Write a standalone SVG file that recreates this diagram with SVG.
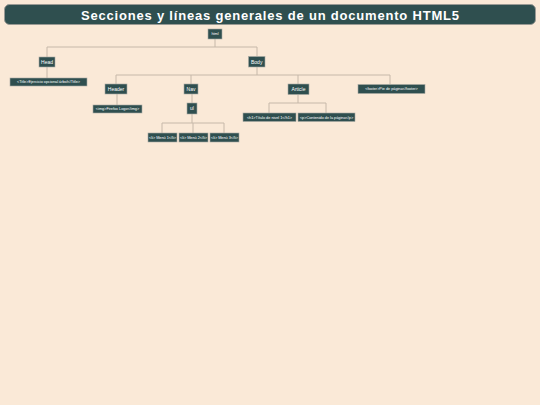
<svg xmlns="http://www.w3.org/2000/svg" width="540" height="405" viewBox="0 0 540 405">
<style>
.bg{fill:#fae9d7}
.n{fill:#2f4f4f;stroke:#a9aaa4;stroke-width:0.6}
.t{fill:#ffffff;font-family:"Liberation Sans",Arial,sans-serif;font-size:5px;text-anchor:middle}
.s{fill:#ffffff;font-family:"Liberation Sans",Arial,sans-serif;font-size:3.8px;text-anchor:middle}
.c{fill:none;stroke:#c6b8a9;stroke-width:1}
</style>
<rect class="bg" x="0" y="0" width="540" height="405"/>
<g id="title">
<rect x="4.5" y="4.5" width="531" height="20" rx="5" fill="#2f4f4f" stroke="#9a9a94" stroke-width="1"/>
<text x="270" y="19.5" fill="#ffffff" font-family="Liberation Sans,Arial,sans-serif" font-weight="bold" font-size="13" text-anchor="middle" textLength="378" lengthAdjust="spacing">Secciones y líneas generales de un documento HTML5</text>
</g>
<g id="connectors">
<path class="c" d="M215 39V47M47 47H257M47 47V57M257 47V56M47 67V78"/>
<path class="c" d="M257 67V75M116 75H390M116 75V84M191 75V84M298 75V84M390 75V84"/>
<path class="c" d="M117 94V105M192 94V103"/>
<path class="c" d="M192 114V123M162 123H224M162 123V133M193 123V133M224 123V133"/>
<path class="c" d="M298 95V103M269 103H326M269 103V113M326 103V113"/>
</g>
<g id="html"><rect class="n" x="208" y="29" width="14" height="10"/><text class="s" x="215" y="35.3">html</text></g>
<g id="head"><rect class="n" x="39" y="57" width="16" height="10"/><text class="t" x="47" y="63.7">Head</text></g>
<g id="body"><rect class="n" x="248.5" y="56.5" width="16.5" height="10.5"/><text class="t" x="256.7" y="63.5">Body</text></g>
<g id="title-el"><rect class="n" x="10" y="78" width="77" height="8"/><text class="s" x="48.5" y="83.3">&lt;Title&gt;Ejercicio opcional árbol&lt;/Title&gt;</text></g>
<g id="header"><rect class="n" x="105" y="84" width="22" height="10"/><text class="t" x="116" y="90.7">Header</text></g>
<g id="nav"><rect class="n" x="184" y="84" width="14" height="10"/><text class="t" x="191" y="90.7">Nav</text></g>
<g id="article"><rect class="n" x="288" y="84" width="21" height="10.5"/><text class="t" x="298.5" y="90.9">Article</text></g>
<g id="footer"><rect class="n" x="358" y="84.5" width="67" height="9"/><text class="s" x="391.5" y="90.3">&lt;footer&gt;Pie de página&lt;/footer&gt;</text></g>
<g id="img"><rect class="n" x="93" y="105" width="49" height="8"/><text class="s" x="117.5" y="110.3">&lt;img&gt;Firefox Logo&lt;/img&gt;</text></g>
<g id="ul"><rect class="n" x="187" y="103" width="10" height="11"/><text class="t" x="192" y="110.2">ul</text></g>
<g id="h1"><rect class="n" x="243" y="113" width="53" height="8.5"/><text class="s" x="269.5" y="118.6">&lt;h1&gt;Título de nivel 1&lt;/h1&gt;</text></g>
<g id="p"><rect class="n" x="298" y="113" width="57" height="8.5"/><text class="s" x="326.5" y="118.6">&lt;p&gt;Contenido de la página&lt;/p&gt;</text></g>
<g id="li1"><rect class="n" x="148" y="133" width="29" height="9"/><text class="s" x="162.5" y="138.8">&lt;li&gt; Menú 1&lt;/li&gt;</text></g>
<g id="li2"><rect class="n" x="179" y="133" width="29" height="9"/><text class="s" x="193.5" y="138.8">&lt;li&gt; Menú 2&lt;/li&gt;</text></g>
<g id="li3"><rect class="n" x="210" y="133" width="29" height="9"/><text class="s" x="224.5" y="138.8">&lt;li&gt; Menú 3&lt;/li&gt;</text></g>
</svg>
